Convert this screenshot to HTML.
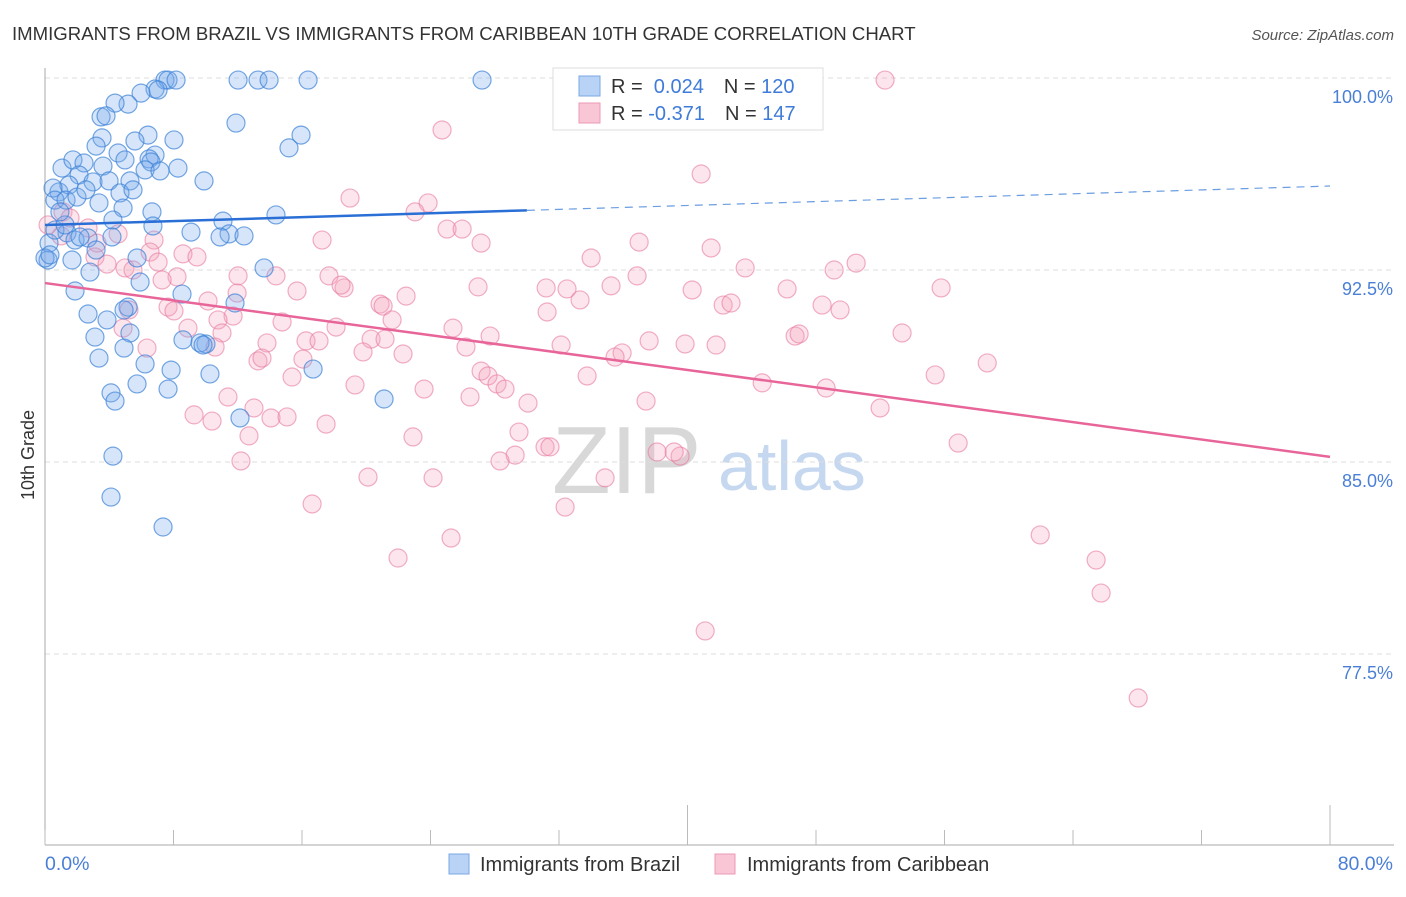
<!DOCTYPE html>
<html><head><meta charset="utf-8">
<style>
body{margin:0;background:#fff;font-family:"Liberation Sans",sans-serif;}
svg text{font-family:"Liberation Sans",sans-serif;}
</style></head>
<body>
<svg id="chart" width="1406" height="892" viewBox="0 0 1406 892" xmlns="http://www.w3.org/2000/svg">
<text x="12" y="40" font-size="18.6" fill="#333">IMMIGRANTS FROM BRAZIL VS IMMIGRANTS FROM CARIBBEAN 10TH GRADE CORRELATION CHART</text>
<text x="1394" y="40" font-size="15" fill="#555" text-anchor="end" font-style="italic">Source: ZipAtlas.com</text>
<g>
<text x="552" y="493" font-size="96" fill="#d8d8d8" font-family="Liberation Serif, serif">ZIP</text>
<text x="718" y="490" font-size="70" fill="#c5d8f0">atlas</text>
</g>
<g id="grid"></g>
<g id="axes"></g>
<g id="pinkPts"></g>
<g id="bluePts"></g>
<g id="trends"></g>
<text transform="translate(34,455) rotate(-90)" font-size="18" fill="#333" text-anchor="middle">10th Grade</text>
<text x="45" y="870" font-size="19.5" fill="#4a7fd6">0.0%</text>
<text x="1393" y="870" font-size="19.5" fill="#4a7fd6" text-anchor="end">80.0%</text>
<g>
<rect x="449" y="854" width="20" height="20" fill="#b8d3f5" stroke="#7aa8e6"/>
<text x="480" y="871" font-size="20" fill="#333">Immigrants from Brazil</text>
<rect x="715" y="854" width="20" height="20" fill="#f9c6d6" stroke="#ec9ab6"/>
<text x="747" y="871" font-size="20" fill="#333">Immigrants from Caribbean</text>
</g>
<g>
<rect x="553" y="68" width="270" height="62" fill="#fff" stroke="#ddd"/>
<rect x="579" y="76" width="21" height="20" fill="#b8d3f5" stroke="#7aa8e6"/>
<rect x="579" y="103" width="21" height="20" fill="#f9c6d6" stroke="#ec9ab6"/>
<text x="611" y="93" font-size="20" fill="#333">R = <tspan fill="#3f7bd8">&#160;0.024</tspan><tspan dx="20">N = </tspan><tspan fill="#3f7bd8">120</tspan></text>
<text x="611" y="120" font-size="20" fill="#333">R = <tspan fill="#3f7bd8">-0.371</tspan><tspan dx="20">N = </tspan><tspan fill="#3f7bd8">147</tspan></text>
</g>
</svg>
<script>
const yTicks=[100,92.5,85,77.5];
const yTickLabels=["100.0%","92.5%","85.0%","77.5%"];
const xTicks=[0,8,16,24,32,40,48,56,64,72,80];
const brazilX=[7.47,7.66,8.16,12.02,13.26,13.95,16.38,27.21,6.85,5.98,7.04,5.17,4.36,3.49,3.80,11.89,6.41,5.60,3.55,8.03,15.19,15.94,3.18,4.55,4.98,6.85,6.48,6.60,1.06,1.74,2.43,3.61,6.23,8.28,7.16,2.12,2.99,3.99,5.29,9.90,4.67,5.48,0.87,1.49,0.50,0.62,1.31,1.99,2.55,3.36,4.86,6.66,14.38,11.08,4.23,6.72,9.09,11.46,12.39,10.90,1.37,1.87,2.68,0.25,0.19,1.68,2.80,5.73,5.92,8.53,1.87,13.64,11.83,5.17,4.92,2.68,3.86,5.29,3.11,3.36,4.92,8.59,6.23,10.02,7.85,10.27,16.69,5.73,4.11,4.36,7.66,12.14,21.11,4.23,4.11,7.35,9.65,9.84,0,0.31,0.62,1.25,0.93,2.18,3.18,4.17];
const brazilY=[99.92,99.92,99.92,99.92,99.92,99.92,99.92,99.92,99.57,99.41,99.53,98.98,99.02,98.48,98.52,98.24,97.77,97.54,97.66,97.58,97.27,97.77,97.34,97.07,96.80,96.99,96.84,96.72,96.48,96.80,96.68,96.56,96.41,96.48,96.37,96.21,95.94,95.98,95.98,95.98,95.51,95.63,95.55,95.82,95.70,95.23,95.23,95.35,95.63,95.12,94.92,94.77,94.65,94.41,94.45,94.22,93.98,93.91,93.83,93.79,93.95,93.67,93.75,93.55,92.89,92.89,92.42,92.97,92.03,91.56,91.68,92.58,91.21,91.05,90.94,90.78,90.55,90.04,89.88,89.06,89.45,89.77,88.83,89.61,88.59,88.44,88.63,88.05,87.70,87.38,87.85,86.72,87.46,85.23,83.63,82.46,89.65,89.57,92.97,93.09,94.06,94.26,94.77,93.79,93.28,93.79];
const caribX=[52.30,24.72,40.85,18.99,23.85,23.04,25.03,25.97,27.15,17.25,36.99,41.47,4.55,3.24,4.98,5.48,6.79,6.54,8.59,7.04,9.46,1.12,1.56,0.19,1.00,2.68,3.11,3.86,8.22,7.29,12.02,14.38,17.68,18.62,18.43,15.69,22.48,20.86,21.05,31.26,26.96,31.20,32.50,34.00,36.86,35.24,33.31,43.59,40.29,42.22,42.71,46.20,49.13,50.50,48.38,49.50,55.79,7.66,8.03,10.15,11.96,11.71,10.77,8.90,11.02,14.76,18.12,21.61,25.40,27.71,26.21,20.30,21.17,16.25,17.06,13.82,13.26,13.51,16.06,19.80,22.29,32.13,37.61,39.85,41.78,35.93,35.49,46.70,46.95,53.36,4.86,15.38,19.30,23.60,27.15,27.58,28.14,28.64,26.46,30.07,33.75,44.65,48.63,55.42,58.66,9.28,10.40,11.39,13.01,14.07,15.07,17.50,22.91,29.51,31.13,31.44,29.27,28.33,12.20,12.70,20.11,24.16,34.87,38.11,39.54,39.17,37.42,51.99,56.85,16.63,25.28,32.38,21.98,61.96,65.44,65.75,41.10,68.06,5.23,10.59,6.35];
const caribY=[99.92,97.97,96.25,95.31,95.12,94.77,94.10,94.10,93.55,93.67,93.59,93.36,93.91,93.55,92.58,92.50,93.67,93.20,93.13,92.81,93.01,94.77,94.53,94.26,93.83,94.14,93.01,92.73,92.23,92.11,92.27,92.27,92.27,91.80,91.91,91.68,91.48,91.17,91.09,90.86,91.84,91.80,91.76,92.97,92.27,91.88,91.33,92.58,91.72,91.13,91.21,91.76,92.50,92.77,91.13,90.94,91.80,91.05,90.90,91.29,91.60,90.70,90.55,90.23,90.04,90.47,90.27,90.55,90.23,89.92,89.49,89.80,89.80,89.73,89.73,89.65,88.95,89.06,89.02,89.30,89.22,89.57,89.73,89.61,89.57,89.26,89.10,89.92,90.00,90.04,90.23,88.32,88.01,87.85,88.55,88.36,88.05,87.85,87.54,87.30,88.36,88.09,87.89,88.40,88.87,86.84,86.60,87.54,87.11,86.72,86.76,86.48,85.98,86.17,85.59,85.59,85.27,85.04,85.04,86.02,84.41,84.38,84.38,85.39,85.23,85.39,87.38,87.11,85.74,83.36,82.03,83.24,81.25,82.15,81.17,79.88,78.40,75.78,90.94,89.49,89.45];
const brazilTrend=[94.26,95.78];
const brazilSolidEnd=30;
const caribTrend=[91.99,85.20];

const NS="http://www.w3.org/2000/svg";
const X0=45,X1=1330,Y100=78,PXPER=25.6;
function sx(v){return X0+v/80*(X1-X0);}
function sy(v){return Y100+(100-v)*PXPER;}
function mk(tag,attrs,parent){const e=document.createElementNS(NS,tag);for(const k in attrs)e.setAttribute(k,attrs[k]);parent.appendChild(e);return e;}
const grid=document.getElementById('grid');
yTicks.forEach((t,i)=>{
 const l=mk('line',{x1:X0,x2:1394,y1:sy(t),y2:sy(t),stroke:'#ddd','stroke-dasharray':'5,4'},grid);
 
 
 const tx=mk('text',{x:1393,y:sy(t)+25,'font-size':18,fill:'#4a7fd6','text-anchor':'end'},grid);
 tx.textContent=yTickLabels[i];
 
 
});
const axes=document.getElementById('axes');
const ya=mk('line',{x1:X0,x2:X0,y1:68,y2:845,stroke:'#aaa'},axes);


const xa=mk('line',{x1:X0,x2:1394,y1:845,y2:845,stroke:'#aaa'},axes);


xTicks.forEach(t=>{
 const long=(t===40||t===80);
 const tk=mk('line',{x1:sx(t),x2:sx(t),y1:long?805:830,y2:845,stroke:'#bbb'},axes);
 
 
});
const pg=document.getElementById('pinkPts');
caribX.forEach((x,i)=>{
 const c=mk('circle',{cx:sx(x),cy:sy(caribY[i]),r:9,fill:'rgba(244,160,188,0.28)',stroke:'rgba(232,122,160,0.6)','stroke-width':1.2},pg);
 
 
});
const bg=document.getElementById('bluePts');
brazilX.forEach((x,i)=>{
 const c=mk('circle',{cx:sx(x),cy:sy(brazilY[i]),r:9,fill:'rgba(120,170,235,0.3)',stroke:'rgba(60,130,215,0.7)','stroke-width':1.2},bg);
 
 
});
const tr=document.getElementById('trends');
function by(x){return brazilTrend[0]+(brazilTrend[1]-brazilTrend[0])*x/80;}
const b1=mk('line',{x1:sx(0),y1:sy(by(0)),x2:sx(brazilSolidEnd),y2:sy(by(brazilSolidEnd)),stroke:'#2a6fd6','stroke-width':2.5},tr);


const b2=mk('line',{x1:sx(brazilSolidEnd),y1:sy(by(brazilSolidEnd)),x2:sx(80),y2:sy(by(80)),stroke:'#6b9de0','stroke-width':1.2,'stroke-dasharray':'8,6'},tr);


const p1=mk('line',{x1:sx(0),y1:sy(caribTrend[0]),x2:sx(80),y2:sy(caribTrend[1]),stroke:'#e8659a','stroke-width':2.5},tr);


</script>
</body></html>
